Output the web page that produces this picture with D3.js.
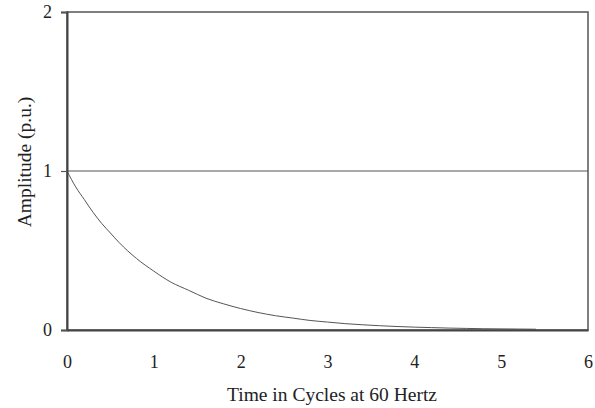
<!DOCTYPE html>
<html>
<head>
<meta charset="utf-8">
<script src="https://cdn.jsdelivr.net/npm/d3@7"></script>
<style>
  html, body { margin: 0; padding: 0; background: #fff; }
  svg text { font-family: "Liberation Serif", "Times New Roman", serif; fill: #222; }
</style>
</head>
<body>
<svg id="chart" width="595" height="408"></svg>
<script>
// Decaying amplitude versus time (cycles at 60 Hz)
const timeCycles = [0, 0.1, 0.2, 0.3, 0.4, 0.5, 0.6, 0.8, 1.0, 1.2, 1.4, 1.6, 1.8, 2.0, 2.2, 2.4, 2.6, 2.8, 3.0, 3.2, 3.4, 3.6, 3.8, 4.0, 4.2, 4.4, 4.6, 4.8, 5.0, 5.2, 5.4];
const amplitude  = [1.0, 0.90, 0.82, 0.74, 0.67, 0.61, 0.55, 0.45, 0.37, 0.30, 0.25, 0.20, 0.165, 0.135, 0.11, 0.09, 0.075, 0.06, 0.05, 0.04, 0.033, 0.027, 0.022, 0.018, 0.015, 0.012, 0.010, 0.008, 0.007, 0.006, 0.005];
const referenceLevel = 1;
const xTicks = [0, 1, 2, 3, 4, 5, 6];
const yTicks = [0, 1, 2];
const xTitle = "Time in Cycles at 60 Hertz";
const yTitle = "Amplitude (p.u.)";

const svg = d3.select("#chart");
const plotLeft = 67, plotRight = 588, plotTop = 12, plotBottom = 330;

const x = d3.scaleLinear().domain([0, 6]).range([plotLeft, plotRight]);
const y = d3.scaleLinear().domain([0, 2]).range([plotBottom, plotTop]);

// Frame around the plot area
svg.append("rect")
  .attr("x", plotLeft).attr("y", plotTop)
  .attr("width", plotRight - plotLeft).attr("height", plotBottom - plotTop)
  .attr("fill", "none").attr("stroke", "#555").attr("stroke-width", 1.5);

// Reference level line
svg.append("line")
  .attr("x1", x(0)).attr("x2", x(6))
  .attr("y1", y(referenceLevel)).attr("y2", y(referenceLevel))
  .attr("stroke", "#555").attr("stroke-width", 1.2);

// Decay curve
const pts = timeCycles.map((t, i) => [t, amplitude[i]]);
svg.append("path")
  .datum(pts)
  .attr("fill", "none")
  .attr("stroke", "#555")
  .attr("stroke-width", 1)
  .attr("d", d3.line().x(d => x(d[0])).y(d => y(d[1])).curve(d3.curveMonotoneX));

// Y axis
const yAxis = svg.append("g")
  .attr("transform", `translate(${plotLeft},0)`)
  .call(d3.axisLeft(y).tickValues(yTicks).tickFormat(d3.format("d")).tickSize(6).tickPadding(9));
yAxis.select(".domain").attr("stroke", "#444").attr("stroke-width", 2);
yAxis.selectAll(".tick line").attr("stroke", "#555").attr("stroke-width", 1.2);
yAxis.selectAll(".tick text").attr("font-size", 18).attr("fill", "#222")
  .attr("font-family", "Liberation Serif, serif");

// X axis
const xAxis = svg.append("g")
  .attr("transform", `translate(0,${plotBottom})`)
  .call(d3.axisBottom(x).tickValues(xTicks).tickFormat(d3.format("d")).tickSize(0).tickPadding(25));
xAxis.select(".domain").attr("stroke", "#444").attr("stroke-width", 2);
xAxis.selectAll(".tick text").attr("font-size", 18).attr("fill", "#222")
  .attr("font-family", "Liberation Serif, serif");

// Axis titles
svg.append("text")
  .attr("x", 332).attr("y", 401)
  .attr("text-anchor", "middle")
  .attr("font-size", 19.5)
  .text(xTitle);

svg.append("text")
  .attr("transform", "translate(31,162) rotate(-90)")
  .attr("text-anchor", "middle")
  .attr("font-size", 19.5)
  .text(yTitle);
</script>
</body>
</html>
